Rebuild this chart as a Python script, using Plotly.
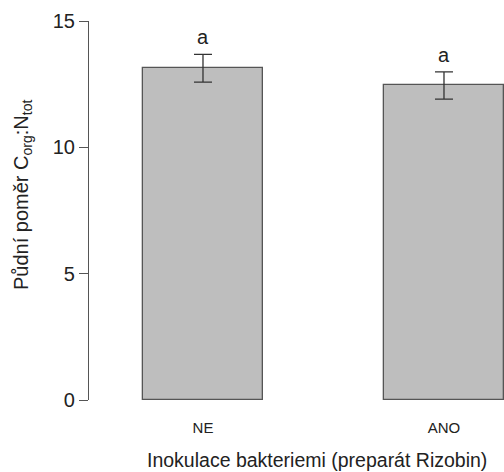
import plotly.graph_objects as go

categories = ["NE", "ANO"]
means = [13.13, 12.45]
errors = [0.55, 0.54]
letters = ["a", "a"]
y_ticks = [0, 5, 10, 15]

xpos = list(range(len(categories)))
font_family = "Liberation Sans, Arial, Helvetica, sans-serif"
txt = "#222222"
axc = "#555555"

W, H = 504, 472
L, T, B = 89, 21, 72
pw = W - L
ph = H - T - B

fig = go.Figure()
fig.add_trace(go.Bar(
    x=xpos, y=means, width=0.5,
    marker=dict(color="#bebebe", line=dict(color="#555555", width=1.3)),
    error_y=dict(type="data", array=errors, visible=True, color="#333333",
                 thickness=1.3, width=9),
    cliponaxis=False,
    showlegend=False,
    hoverinfo="skip",
))

for x, m, e, l in zip(xpos, means, errors, letters):
    fig.add_annotation(x=x, y=m + e, text=l, showarrow=False, yshift=17,
                       font=dict(size=20, color=txt, family=font_family))

fig.add_annotation(xref="paper", yref="paper", x=(317 - L) / pw, y=-(460 - 400) / ph,
                   text="Inokulace bakteriemi (preparát Rizobin)", showarrow=False,
                   font=dict(size=19.5, color=txt, family=font_family),
                   xanchor="center", yanchor="middle")
fig.add_annotation(xref="paper", yref="paper", x=-(L - 22) / pw, y=(400 - 195) / ph,
                   text="Půdní poměr C<sub>org</sub>:N<sub>tot</sub>", showarrow=False,
                   textangle=-90,
                   font=dict(size=20, color=txt, family=font_family),
                   xanchor="center", yanchor="middle")

fig.update_layout(
    width=W, height=H,
    margin=dict(l=L, r=0, t=T, b=B),
    paper_bgcolor="white", plot_bgcolor="white",
    font=dict(family=font_family, color=txt),
    bargap=0,
)
fig.update_xaxes(range=[-0.473, 1.249], tickvals=xpos, ticktext=categories,
                 showgrid=False, zeroline=False, showline=False, ticks="",
                 ticklabelstandoff=17, tickfont=dict(size=15, color=txt))
fig.update_yaxes(range=[0, 15], tickvals=y_ticks, showgrid=False, zeroline=False,
                 showline=True, linecolor=axc, linewidth=1.2,
                 ticks="outside", ticklen=9, tickcolor=axc, tickwidth=1.2,
                 tickfont=dict(size=20, color=txt))

fig.write_html("out.html", config={"displayModeBar": False},
               post_script="document.body.style.margin='0';document.body.style.overflow='hidden';")
